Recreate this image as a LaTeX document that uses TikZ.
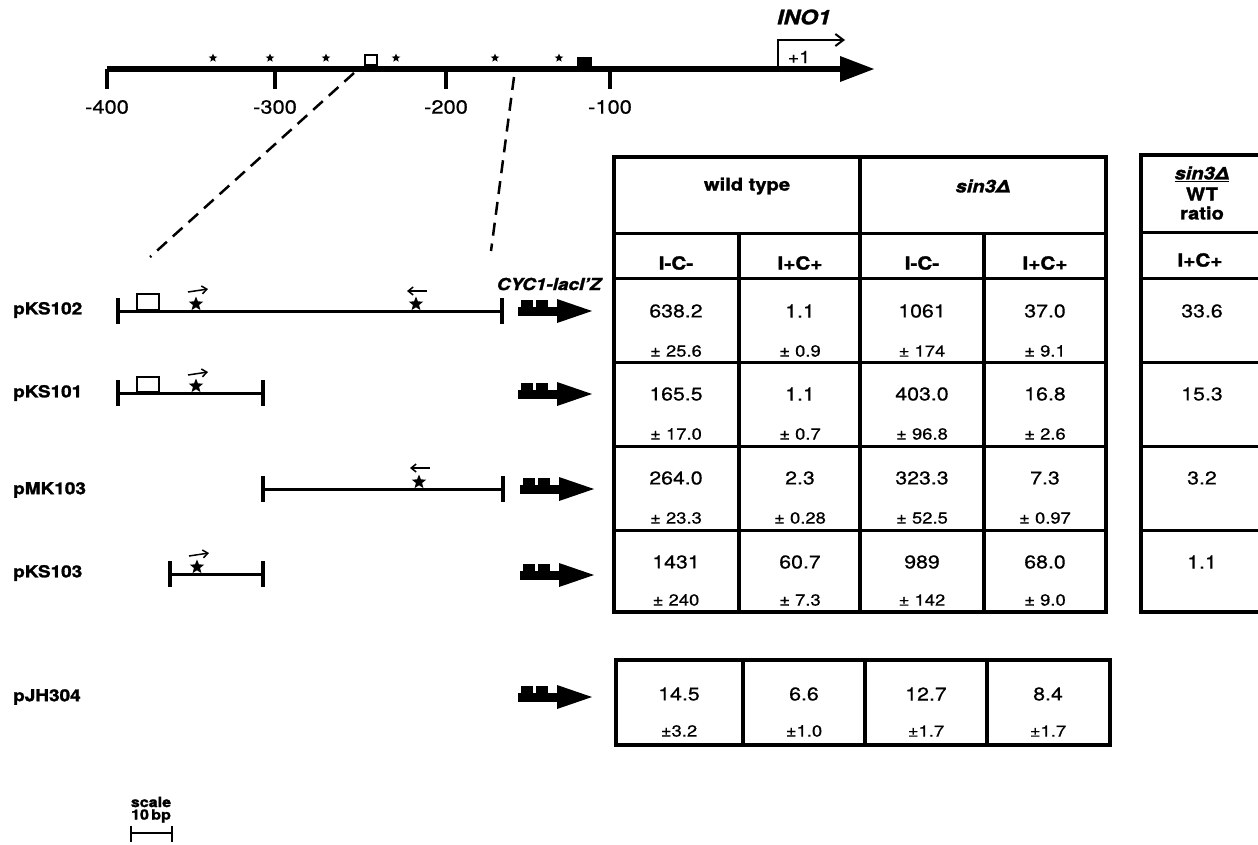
\documentclass[tikz,border=0pt]{standalone}
\usepackage{fontspec}
\setmainfont{TeX Gyre Heros}[FakeStretch=1.15, FakeBold=0.6, BoldFeatures={FakeBold=1.6}, BoldItalicFeatures={FakeBold=1.6}, ItalicFeatures={FakeBold=0.6}]
\usetikzlibrary{shapes.geometric,arrows.meta}
\tikzset{
  x=1pt, y=-1pt,
  num/.style={font=\fontsize{18.5}{18.5}\selectfont, inner sep=0pt},
  pmv/.style={font=\fontsize{16}{16}\selectfont, inner sep=0pt},
  hdr/.style={font=\bfseries\fontsize{17.5}{17.5}\selectfont, inner sep=0pt},
  sub/.style={font=\bfseries\fontsize{18}{18}\selectfont, inner sep=0pt},
  lbl/.style={font=\bfseries\fontsize{16.5}{16.5}\selectfont, anchor=west, inner sep=0pt},
  tick/.style={font=\fontsize{19}{19}\selectfont, inner sep=0pt},
  gridline/.style={line width=3.5pt},
  thinrow/.style={line width=3pt},
  cline/.style={line width=3pt},
  endbar/.style={line width=4pt},
  dashline/.style={line width=2.5pt, dash pattern=on 13pt off 8pt},
  smallstar/.style={star, star points=5, star point ratio=2.3, fill=black, inner sep=0pt, minimum size=9pt},
  bigstar/.style={star, star points=5, star point ratio=2.3, fill=black, inner sep=0pt, minimum size=15pt},
  vecarrow/.style={line width=1.5pt, -{Straight Barb[length=5pt,width=8pt]}},
  prom/.pic={
    \fill (0,-4) rectangle (42,5);
    \fill (3,-11) rectangle (15,-3);
    \fill (18,-11) rectangle (30,-3);
    \fill (39,-12) -- (74,0) -- (39,12) -- cycle;
  }
}
\begin{document}
\begin{tikzpicture}
\useasboundingbox (0,0) rectangle (1258,844);
\fill[white] (0,0) rectangle (1258,844);

% ---------- top map ----------
\draw[line width=6pt] (107,69) -- (845,69);
\fill (840,56) -- (874,69) -- (840,82) -- cycle;
\foreach \x/\t in {107/-400,275/-300,446/-200,610/-100}{
  \draw[line width=3.5pt] (\x,69) -- (\x,89);
  \node[tick] at (\x,107) {\t};
}
\foreach \x in {213,270,326,396,495,559}{
  \node[smallstar] at (\x,58) {};
}
\draw[line width=2pt] (365,55) rectangle (377,65);
\fill (577,57) rectangle (592,66);
\draw[line width=2pt, -{Straight Barb[length=8pt,width=12pt]}] (778,69) -- (778,40) -- (845,40);
\node[font=\fontsize{17}{17}\selectfont, inner sep=0pt] (plus1) at (799,57) {+1};
\node[font=\bfseries\itshape\fontsize{20}{20}\selectfont, inner sep=0pt] (ino) at (804,17) {INO1};

% dashed zoom lines
\coordinate (d1a) at (354,73);
\coordinate (d1b) at (150,257);
\coordinate (d2a) at (514,77);
\coordinate (d2b) at (491,251);
\draw[dashline] (d1a) -- (d1b);
\draw[dashline] (d2a) -- (d2b);

% ---------- constructs ----------
\node[lbl] (l1) at (13,310) {pKS102};
\node[lbl] (l2) at (13,393) {pKS101};
\node[lbl] (l3) at (13,490) {pMK103};
\node[lbl] (l4) at (13,573) {pKS103};
\node[lbl] (l5) at (13,697) {pJH304};

% pKS102
\draw[cline] (118,311) -- (502,311);
\draw[endbar] (118,298) -- (118,324);
\draw[endbar] (502,298) -- (502,324);
\draw[line width=2pt] (137,294) rectangle (159,310);
\node[bigstar] at (196,304) {};
\draw[vecarrow] (188,292) -- (208,289);
\node[bigstar] at (416,304) {};
\draw[vecarrow] (427,291) -- (407,291);
\node[font=\bfseries\itshape\fontsize{16.5}{16.5}\selectfont, inner sep=0pt] (cyc) at (549,284) {CYC1-lacI'Z};
\pic at (518,311) {prom};

% pKS101
\draw[cline] (118,393) -- (263,393);
\draw[endbar] (118,380) -- (118,406);
\draw[endbar] (263,380) -- (263,406);
\draw[line width=2pt] (137,377) rectangle (159,392);
\node[bigstar] at (196,386) {};
\draw[vecarrow] (188,375) -- (208,372);
\pic at (518,394) {prom};

% pMK103
\draw[cline] (263,489) -- (503,489);
\draw[endbar] (263,476) -- (263,502);
\draw[endbar] (503,476) -- (503,502);
\node[bigstar] at (419,482) {};
\draw[vecarrow] (430,468) -- (410,468);
\pic at (520,489) {prom};

% pKS103
\draw[cline] (170,574) -- (263,574);
\draw[endbar] (170,561) -- (170,587);
\draw[endbar] (263,561) -- (263,587);
\node[bigstar] at (197,567) {};
\draw[vecarrow] (189,556) -- (209,553);
\pic at (520,575) {prom};

% pJH304
\pic at (518,697) {prom};

% ---------- main table ----------
\draw[gridline] (614,157) rectangle (1106,612);
\draw[gridline] (860,157) -- (860,612);
\draw[gridline] (739,233) -- (739,612);
\draw[gridline] (984,233) -- (984,612);
\draw[thinrow] (614,233) -- (1106,233);
\draw[thinrow] (614,278) -- (1106,278);
\draw[thinrow] (614,362) -- (1106,362);
\draw[thinrow] (614,446) -- (1106,446);
\draw[thinrow] (614,530) -- (1106,530);

\node[hdr] (wt) at (747,186) {wild type};
\node[hdr] (sin) at (983,186) {\itshape sin3Δ};
\foreach \x/\t in {676/I-C-,800/I+C+,922/I-C-,1045/I+C+}{
  \node[sub] at (\x,263) {\t};
}

\foreach \y/\a/\b/\c/\d in {311/638.2/1.1/1061/37.0, 394/165.5/1.1/403.0/16.8, 478/264.0/2.3/323.3/7.3, 562/1431/60.7/989/68.0}{
  \node[num] at (676,\y) {\a};
  \node[num] at (800,\y) {\b};
  \node[num] at (922,\y) {\c};
  \node[num] at (1045,\y) {\d};
}
\foreach \y/\a/\b/\c/\d in {351/25.6/0.9/174/9.1, 434/17.0/0.7/96.8/2.6, 518/23.3/0.28/52.5/0.97, 600/240/7.3/142/9.0}{
  \node[pmv] at (676,\y) {± \a};
  \node[pmv] at (800,\y) {± \b};
  \node[pmv] at (922,\y) {± \c};
  \node[pmv] at (1045,\y) {± \d};
}

% ---------- ratio column ----------
\draw[gridline] (1270,155) -- (1141,155) -- (1141,612) -- (1270,612);
\draw[thinrow] (1141,232) -- (1270,232);
\draw[thinrow] (1141,278) -- (1270,278);
\draw[thinrow] (1141,362) -- (1270,362);
\draw[thinrow] (1141,446) -- (1270,446);
\draw[thinrow] (1141,530) -- (1270,530);
\node[hdr] (r1) at (1202,174) {\itshape\underline{sin3Δ}};
\node[hdr] (r2) at (1202,194) {WT};
\node[hdr] (r3) at (1202,213) {ratio};
\node[sub] (r4) at (1200,260) {I+C+};
\foreach \y/\v in {311/33.6, 394/15.3, 478/3.2, 562/1.1}{
  \node[num] at (1202,\y) {\v};
}

% ---------- pJH304 table ----------
\draw[gridline] (616,660) rectangle (1110,745);
\draw[gridline] (743,660) -- (743,745);
\draw[gridline] (865,660) -- (865,745);
\draw[gridline] (987,660) -- (987,745);
\foreach \x/\a/\b in {679/14.5/3.2, 804/6.6/1.0, 926/12.7/1.7, 1048/8.4/1.7}{
  \node[num] at (\x,694) {\a};
  \node[pmv] at (\x,731) {±\b};
}

% ---------- scale bar ----------
\node[font=\bfseries\fontsize{14}{14}\selectfont, inner sep=0pt] (sc1) at (151,802) {scale};
\node[font=\bfseries\fontsize{14}{14}\selectfont, inner sep=0pt] (sc2) at (151,816) {10\,bp};
\draw[line width=2pt] (131,833) -- (172,833);
\draw[line width=2.5pt] (131,826) -- (131,842);
\draw[line width=2.5pt] (172,826) -- (172,842);
\end{tikzpicture}
\end{document}
